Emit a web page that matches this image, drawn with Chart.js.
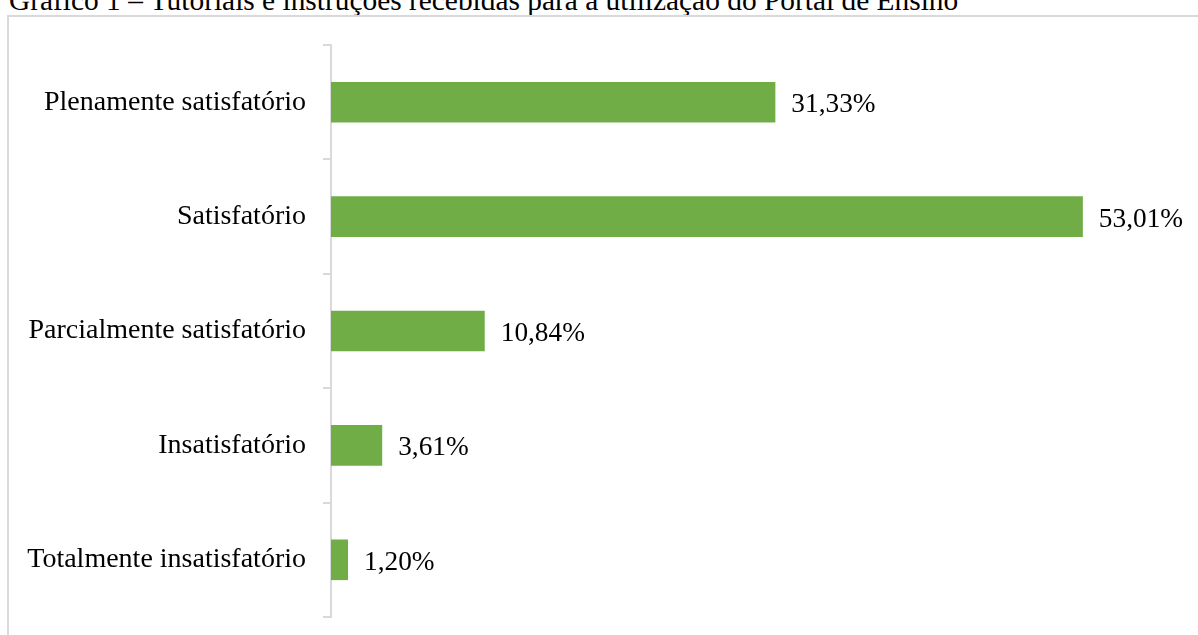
<!DOCTYPE html>
<html lang="pt">
<head>
<meta charset="utf-8">
<title>Gráfico 1</title>
<script src="https://cdn.jsdelivr.net/npm/chart.js@4/dist/chart.umd.min.js"></script>
<style>
  html, body { margin: 0; padding: 0; background: #fff; overflow: hidden; }
  body { width: 1198px; height: 635px; position: relative; }
  #titulo {
    position: absolute; left: 9px; top: -14px;
    font: 29.4px/29.4px "Liberation Serif", "Times New Roman", serif;
    color: #000; white-space: nowrap;
  }
  #moldura {
    position: absolute; left: 7px; top: 15px; width: 1200px; height: 700px;
    border: 2px solid #d9d9d9; box-sizing: border-box;
  }
  #grafico { position: absolute; left: 0; top: 0; }
</style>
</head>
<body>
<div id="titulo">Gráfico 1 – Tutoriais e instruções recebidas para a utilização do Portal de Ensino</div>
<div id="moldura"></div>
<canvas id="grafico" width="1198" height="635"></canvas>
<script>
const categorias = [
  'Plenamente satisfatório',
  'Satisfatório',
  'Parcialmente satisfatório',
  'Insatisfatório',
  'Totalmente insatisfatório'
];
const percentuais = [31.33, 53.01, 10.84, 3.61, 1.20];

const fonte = '"Liberation Serif", "Times New Roman", serif';

// rótulos de valor à direita de cada barra (sem plugin externo)
const rotulosPlugin = {
  id: 'rotulos',
  afterDatasetsDraw(chart) {
    const ctx = chart.ctx;
    const meta = chart.getDatasetMeta(0);
    ctx.save();
    ctx.font = '27.3px ' + fonte;
    ctx.fillStyle = '#000';
    ctx.textAlign = 'left';
    ctx.textBaseline = 'alphabetic';
    meta.data.forEach((bar, i) => {
      const txt = percentuais[i].toFixed(2).replace('.', ',') + '%';
      ctx.fillText(txt, bar.x + 16, bar.y + 10);
    });
    ctx.restore();
  }
};

const ctx = document.getElementById('grafico').getContext('2d');
new Chart(ctx, {
  type: 'bar',
  data: {
    labels: categorias,
    datasets: [{
      data: percentuais,
      backgroundColor: '#70ad47',
      borderWidth: 0,
      barPercentage: 0.355,
      categoryPercentage: 1
    }]
  },
  options: {
    indexAxis: 'y',
    responsive: false,
    animation: false,
    layout: { padding: { top: 45, bottom: 18, right: 16, left: 0 } },
    scales: {
      x: {
        display: false,
        min: 0,
        max: 60
      },
      y: {
        afterFit: (s) => {
          s.width = 331;
          s.paddingTop = 0;
          s.paddingBottom = 0;
        },
        border: { display: true, color: '#d9d9d9', width: 2 },
        grid: {
          drawOnChartArea: false,
          drawTicks: true,
          tickLength: 8,
          color: '#d9d9d9',
          lineWidth: 2,
          offset: true
        },
        ticks: {
          color: '#000',
          padding: 17,
          font: { family: fonte, size: 28 }
        }
      }
    },
    plugins: {
      legend: { display: false },
      tooltip: { enabled: false }
    }
  },
  plugins: [rotulosPlugin]
});
</script>
</body>
</html>
